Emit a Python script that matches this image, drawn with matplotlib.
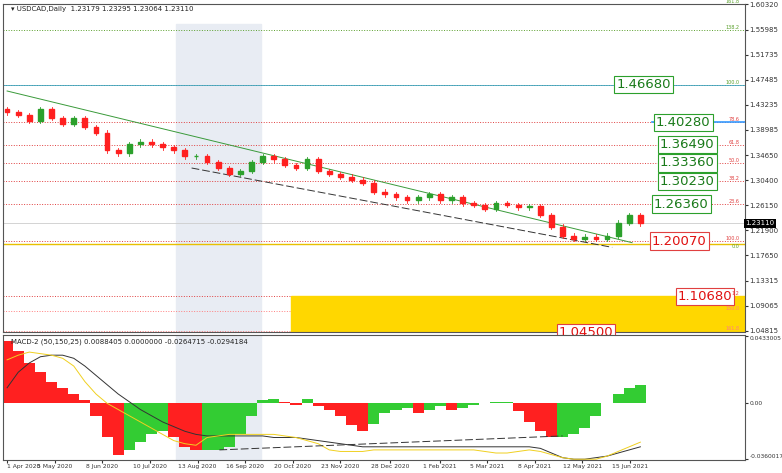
import numpy as np
import pandas as pd
import matplotlib
matplotlib.use('Agg')
import matplotlib.pyplot as plt
from matplotlib.patches import Rectangle

# ---- data ----
weekly_close = [1.420, 1.415, 1.405, 1.425, 1.410, 1.400, 1.410, 1.395, 1.385, 1.355,
                1.350, 1.365, 1.370, 1.365, 1.360, 1.355, 1.345, 1.345, 1.335, 1.325,
                1.315, 1.320, 1.335, 1.345, 1.340, 1.330, 1.325, 1.340, 1.320, 1.315,
                1.310, 1.305, 1.300, 1.285, 1.280, 1.275, 1.270, 1.275, 1.280, 1.270,
                1.275, 1.265, 1.262, 1.255, 1.265, 1.262, 1.258, 1.260, 1.245, 1.225,
                1.210, 1.205, 1.208, 1.205, 1.210, 1.232, 1.245, 1.231]
macd_hist = [0.040, 0.034, 0.026, 0.020, 0.014, 0.010, 0.006, 0.002, -0.008, -0.022,
             -0.033, -0.030, -0.025, -0.020, -0.018, -0.022, -0.028, -0.030, -0.030, -0.030,
             -0.028, -0.020, -0.008, 0.002, 0.003, 0.001, -0.001, 0.003, -0.002, -0.004,
             -0.008, -0.014, -0.018, -0.013, -0.006, -0.004, -0.003, -0.006, -0.004, -0.002,
             -0.004, -0.003, -0.001, 0.000, 0.001, 0.001, -0.005, -0.012, -0.018, -0.022,
             -0.022, -0.020, -0.016, -0.008, 0.000, 0.006, 0.010, 0.012]
macd_line = [0.010, 0.020, 0.026, 0.030, 0.031, 0.031, 0.029, 0.024, 0.018, 0.012,
             0.006, 0.001, -0.004, -0.008, -0.012, -0.015, -0.018, -0.020, -0.021, -0.021,
             -0.021, -0.021, -0.021, -0.021, -0.022, -0.022, -0.022, -0.023, -0.024, -0.025,
             -0.026, -0.027, -0.028, -0.028, -0.028, -0.028, -0.028, -0.028, -0.028, -0.028,
             -0.028, -0.028, -0.028, -0.028, -0.028, -0.028, -0.028, -0.028, -0.029, -0.032,
             -0.035, -0.036, -0.036, -0.035, -0.034, -0.032, -0.030, -0.028]
signal_line = [0.028, 0.031, 0.033, 0.032, 0.031, 0.029, 0.024, 0.014, 0.006, 0.000,
               -0.004, -0.008, -0.012, -0.016, -0.020, -0.024, -0.026, -0.027, -0.022, -0.021,
               -0.020, -0.020, -0.020, -0.020, -0.020, -0.021, -0.022, -0.024, -0.026, -0.030,
               -0.031, -0.031, -0.031, -0.030, -0.030, -0.030, -0.030, -0.030, -0.030, -0.030,
               -0.030, -0.030, -0.030, -0.031, -0.032, -0.032, -0.031, -0.030, -0.031, -0.033,
               -0.035, -0.036, -0.036, -0.036, -0.034, -0.031, -0.028, -0.025]
date_labels = ['1 Apr 2020', '5 May 2020', '8 Jun 2020', '10 Jul 2020', '13 Aug 2020',
               '16 Sep 2020', '20 Oct 2020', '23 Nov 2020', '28 Dec 2020', '1 Feb 2021',
               '5 Mar 2021', '8 Apr 2021', '12 May 2021', '15 Jun 2021']
price_ticks = [1.60320, 1.55985, 1.51735, 1.47485, 1.43235, 1.38985, 1.34650, 1.30400,
               1.26150, 1.21900, 1.17650, 1.13315, 1.09065, 1.04815]
box_levels = [1.46680, 1.40280, 1.36490, 1.33360, 1.30230, 1.26360]
red_levels = [1.20070, 1.10680, 1.04500]
fibo_levels = [1.6032, 1.5598, 1.4668, 1.4028, 1.3649, 1.3336, 1.3023, 1.2636, 1.2007, 1.1965,
               1.1068, 1.0810, 1.0481]
fibo_text = ['161.8', '138.2', '100.0', '78.6', '61.8', '50.0', '38.2', '23.6', '100.0', '0.0',
             '1.2', '150.0', '161.8']
fibo_color = ['#5aa02c', '#5aa02c', '#5aa02c', '#e04040', '#e04040', '#e04040', '#e04040',
              '#e04040', '#e04040', '#5aa02c', '#e04040', '#ff8080', '#ff8080']

days = pd.bdate_range('2020-04-01', '2021-09-30')
step = 5.6
xs = np.arange(len(weekly_close)) * step

fig = plt.figure(figsize=(7.82, 4.73), dpi=100)
ax = fig.add_axes([0.004, 1 - 332 / 473, 742 / 782, 328 / 473])
axm = fig.add_axes([0.004, 1 - 460 / 473, 742 / 782, 125 / 473])
xmax = 372
for a in (ax, axm):
    a.set_xlim(-2, xmax)
    a.yaxis.tick_right()
    a.tick_params(labelsize=5, length=2, pad=1, colors='#333333')
    for s in a.spines.values():
        s.set_color('#555555')
        s.set_linewidth(0.8)

# watermark shading
ax.add_patch(Rectangle((85, 1.04), 43, 0.53, color='#e8ecf3', zorder=0))
axm.add_patch(Rectangle((85, -0.04), 43, 0.09, color='#e8ecf3', zorder=0))

ax.set_ylim(1.0460, 1.6040)
ax.set_yticks(price_ticks)
ax.set_yticklabels([f'{v:.5f}' for v in price_ticks])
ax.set_xticks([])

for lvl, t, c in zip(fibo_levels, fibo_text, fibo_color):
    ax.axhline(lvl, color=c, lw=0.7, ls=':', zorder=1)
    ax.text(xmax - 3, lvl, t, fontsize=3.5, color=c, ha='right',
            va='top' if t == '0.0' else 'bottom', zorder=7)
ax.axhline(1.4668, color='#40a0c0', lw=0.6, zorder=1)
ax.plot([325, xmax], [1.4028, 1.4028], color='#3399ff', lw=1.2, zorder=2)
ax.axhline(1.1965, color='#e8c000', lw=1.0, zorder=1)
ax.add_patch(Rectangle((143, 1.0450), xmax - 143, 1.1068 - 1.0450, color='#ffd700', zorder=1))

# trendlines
ax.plot([0, 315], [1.456, 1.198], color='#3a9a3a', lw=0.7, zorder=3)
ax.plot([93, 305], [1.325, 1.190], color='#333333', lw=0.7, ls=(0, (8, 3)), zorder=3)

# candles
prev = weekly_close[0] + 0.005
for x, c in zip(xs, weekly_close):
    col = '#2ca02c' if c >= prev else '#ff2020'
    lo, hi = min(prev, c), max(prev, c)
    ax.plot([x, x], [lo - 0.004, hi + 0.004], color=col, lw=0.6, zorder=4)
    ax.add_patch(Rectangle((x - 1.2, lo), 2.4, max(hi - lo, 0.0008), color=col, zorder=4))
    prev = c
ax.axhline(1.2311, color='#cccccc', lw=0.6, zorder=1)
ax.text(1.0, 1.2311, '1.23110', transform=ax.get_yaxis_transform(), fontsize=5,
        color='white', va='center', bbox=dict(fc='black', ec='none', pad=1))

box_x = [307, 327, 329, 329, 329, 326]
for lvl, bx in zip(box_levels, box_x):
    ax.text(bx, lvl, f'{lvl:.5f}', fontsize=9.5, color='#1a7a1a', va='center',
            bbox=dict(fc='white', ec='#2ca02c', lw=0.8, pad=1.5), zorder=6)
for lvl, bx in zip(red_levels, [325, 338, 278]):
    ax.text(bx, lvl, f'{lvl:.5f}', fontsize=9.5, color='#e01010', va='center',
            bbox=dict(fc='white', ec='#e04040', lw=0.8, pad=1.5), zorder=6)
ax.text(0.01, 0.995, '\u25be USDCAD,Daily  1.23179 1.23295 1.23064 1.23110',
        transform=ax.transAxes, fontsize=5, va='top', color='#222222')

# MACD panel
axm.set_ylim(-0.0365, 0.0440)
axm.set_yticks([0.0433, 0.0, -0.0360])
axm.set_yticklabels(['0.0433005', '0.00', '-0.0360017'], fontsize=4.3)
axm.get_yticklabels()[0].set_va('top')
axm.get_yticklabels()[2].set_va('bottom')
bar_col = ['#ff2020' if i > 0 and macd_hist[i] < macd_hist[i - 1] else '#33cc33'
           for i in range(len(macd_hist))]
bar_col[0] = '#ff2020'
axm.bar(xs, macd_hist, width=step, color=bar_col, zorder=2)
axm.plot(xs, macd_line, color='#333333', lw=0.7, zorder=3)
axm.plot(xs, signal_line, color='#f0d020', lw=0.7, zorder=3)
axm.plot([107, 280], [-0.030, -0.021], color='#333333', lw=0.7, ls=(0, (8, 3)), zorder=3)
axm.text(0.01, 0.97, 'MACD-2 (50,150,25) 0.0088405 0.0000000 -0.0264715 -0.0294184',
         transform=axm.transAxes, fontsize=5, va='top', color='#222222')
tick_pos = [days.get_indexer([pd.Timestamp(d)], method='bfill')[0] for d in date_labels]
axm.set_xticks(tick_pos)
axm.set_xticklabels(date_labels, fontsize=4.3)
axm.get_xticklabels()[0].set_ha('left')

fig.savefig('out.png', dpi=100)
